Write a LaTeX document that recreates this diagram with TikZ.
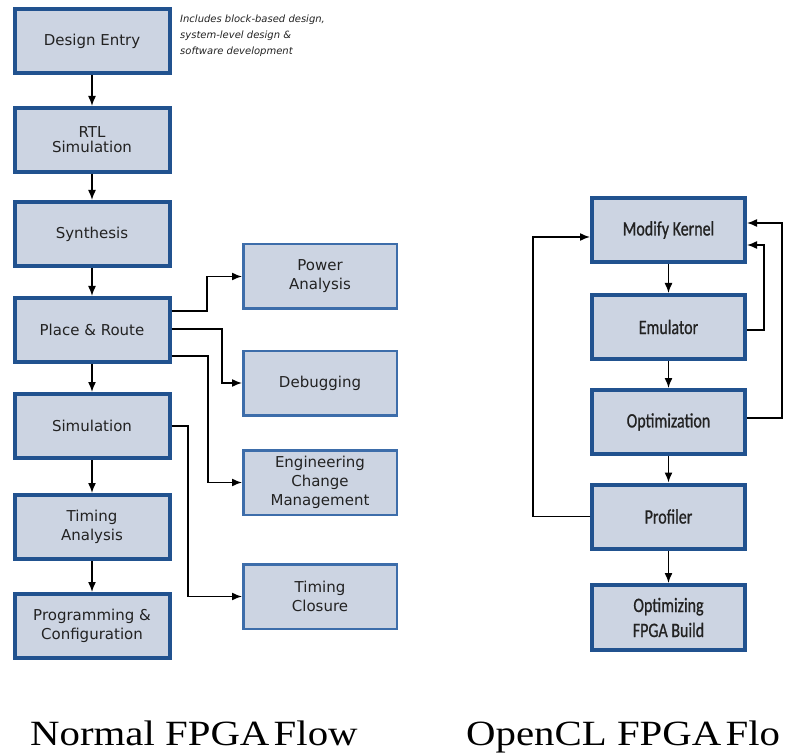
\documentclass[tikz,border=0pt]{standalone}
\usepackage{fontspec}
\setmainfont{DejaVu Sans}
\newfontfamily\boxfont{DejaVu Sans}
\newfontfamily\condfont[FakeStretch=0.78, FakeBold=0.8]{Carlito}
\newfontfamily\titlefont[FakeStretch=1.15]{Liberation Serif}
\usetikzlibrary{arrows.meta}

\definecolor{boxfill}{HTML}{CCD4E2}
\definecolor{boxedge}{HTML}{21528F}
\definecolor{sideedge}{HTML}{3D6DAA}
\definecolor{txt}{HTML}{222222}

\begin{document}
\begin{tikzpicture}[x=1pt,y=-1pt,
  mainbox/.style={draw=boxedge, line width=4pt, fill=boxfill, text=txt,
    minimum width=155pt, minimum height=64pt, inner sep=0pt, align=center,
    font=\boxfont\fontsize{15}{19}\selectfont},
  sidebox/.style={draw=sideedge, line width=2.5pt, fill=boxfill, text=txt,
    minimum width=153.5pt, minimum height=64.5pt, inner sep=0pt, align=center,
    font=\boxfont\fontsize{15}{19}\selectfont},
  clbox/.style={mainbox, minimum width=153pt,
    font=\condfont\fontsize{20.5}{25}\selectfont},
  arr/.style={-{Latex[length=10pt,width=8pt]}, line width=1.5pt, black},
  title/.style={anchor=base west, inner sep=0pt, font=\titlefont\fontsize{35.5}{40}\selectfont}
]
\useasboundingbox (0,0) rectangle (785,754);

% Normal FPGA flow: main column
\node[mainbox] (de)  at (92,41)  {Design Entry};
\node[mainbox, font=\boxfont\fontsize{15}{15}\selectfont] (rtl) at (92,140) {RTL\\Simulation};
\node[mainbox] (syn) at (92,234) {Synthesis};
\node[mainbox] (pr)  at (92,330) {Place \& Route};
\node[mainbox] (sim) at (92,426) {Simulation};
\node[mainbox] (ta)  at (92,527) {Timing\\Analysis};
\node[mainbox] (pc)  at (92,626) {Programming \&\\Configuration};

\node[anchor=north west, align=left, inner sep=0pt, text=txt,
      font=\fontsize{10}{16}\selectfont\itshape] (note) at (180,15)
  {Includes block-based design,\\system-level design \&\\software development};

% side tasks
\node[sidebox] (pa)  at (320,276.5) {Power\\Analysis};
\node[sidebox] (db)  at (320,383)   {Debugging};
\node[sidebox] (ecm) at (320,482.5) {Engineering\\Change\\Management};
\node[sidebox] (tc)  at (320,596.5) {Timing\\Closure};

\draw[arr] (de.south)  -- (rtl.north);
\draw[arr] (rtl.south) -- (syn.north);
\draw[arr] (syn.south) -- (pr.north);
\draw[arr] (pr.south)  -- (sim.north);
\draw[arr] (sim.south) -- (ta.north);
\draw[arr] (ta.south)  -- (pc.north);

\draw[arr] ([yshift=19pt]pr.east)  -- ++(35.5,0) |- (pa.west);
\draw[arr] ([yshift=1pt]pr.east)   -- ++(50.5,0) |- (db.west);
\draw[arr] ([yshift=-26pt]pr.east) -- ++(36.5,0) |- (ecm.west);
\draw[arr] (sim.east) -- ++(16.5,0) |- (tc.west);

% OpenCL FPGA flow
\node[clbox] (mk) at (668.5,230)   {Modify Kernel};
\node[clbox] (em) at (668.5,327)   {Emulator};
\node[clbox] (op) at (668.5,422)   {Optimization};
\node[clbox] (pf) at (668.5,516.5) {Profiler};
\node[clbox, minimum height=65pt] (ob) at (668.5,617.5) {Optimizing\\FPGA Build};

\draw[arr] (mk.south) -- (em.north);
\draw[arr] (em.south) -- (op.north);
\draw[arr] (op.south) -- (pf.north);
\draw[arr] (pf.south) -- (ob.north);

\draw[arr] (pf.west) -- ++(-57,0) |- ([yshift=-7pt]mk.west);
\draw[arr] ([yshift=-3pt]em.east) -- ++(17,0) |- ([yshift=-15pt]mk.east);
\draw[arr] ([yshift=4pt]op.east) -- ++(35,0) |- ([yshift=7pt]mk.east);

% captions
\node[title] (t1) at (30,745)  {Normal FPGA\hspace{0.12em}Flow};
\node[title] (t2) at (466,745) {OpenCL FPGA\hspace{0.12em}Flo};
\end{tikzpicture}
\end{document}
